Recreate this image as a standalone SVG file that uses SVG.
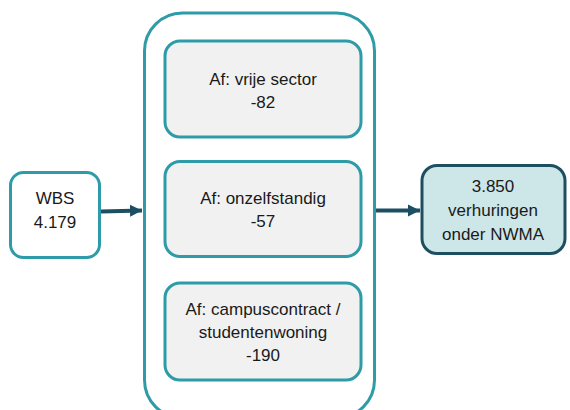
<svg xmlns="http://www.w3.org/2000/svg" width="570" height="410" viewBox="0 0 570 410">
<style>
.box{fill:#ffffff;stroke:#2e9ba8;stroke-width:3}
.inner{fill:#f1f1f1;stroke:#2e9ba8;stroke-width:3}
.out{fill:#cde6e8;stroke:#1d4f60;stroke-width:3}
.t{font-family:"Liberation Sans","Open Sans",sans-serif;font-size:17px;fill:#1a1a1a;text-anchor:middle}
.conn{stroke:#1d4f63;stroke-width:4;fill:none}
</style>
<defs>
<marker id="ah" markerWidth="3" markerHeight="4" refX="3" refY="2" orient="auto" markerUnits="strokeWidth">
<path d="M0,0.5 L3,2 L0,3.5 Z" fill="#1d4f63"/>
</marker>
</defs>
<rect width="570" height="410" fill="#ffffff"/>
<g id="container">
<rect class="box" x="144.5" y="13" width="230" height="405" rx="38"/>
</g>
<g id="wbs">
<rect class="box" x="10.5" y="172.5" width="89" height="85" rx="13"/>
<text class="t" x="55" y="204">WBS</text>
<text class="t" x="55" y="228">4.179</text>
</g>
<g id="vrije">
<rect class="inner" x="165" y="41" width="196" height="96" rx="15"/>
<text class="t" x="263" y="85">Af: vrije sector</text>
<text class="t" x="263" y="108">-82</text>
</g>
<g id="onzelf">
<rect class="inner" x="165" y="161.5" width="196" height="95" rx="15"/>
<text class="t" x="263" y="204">Af: onzelfstandig</text>
<text class="t" x="263" y="227">-57</text>
</g>
<g id="campus">
<rect class="inner" x="165" y="283" width="196" height="97" rx="15"/>
<text class="t" x="263" y="315">Af: campuscontract /</text>
<text class="t" x="263" y="338">studentenwoning</text>
<text class="t" x="263" y="361">-190</text>
</g>
<g id="nwma">
<rect class="out" x="422" y="165.5" width="143" height="88" rx="15"/>
<text class="t" x="493" y="192">3.850</text>
<text class="t" x="493" y="216">verhuringen</text>
<text class="t" x="493" y="240">onder NWMA</text>
</g>
<g id="connectors">
<line class="conn" x1="101" y1="211.5" x2="142" y2="210.5" marker-end="url(#ah)"/>
<line class="conn" x1="376" y1="210.5" x2="420" y2="210.5" marker-end="url(#ah)"/>
</g>
</svg>
